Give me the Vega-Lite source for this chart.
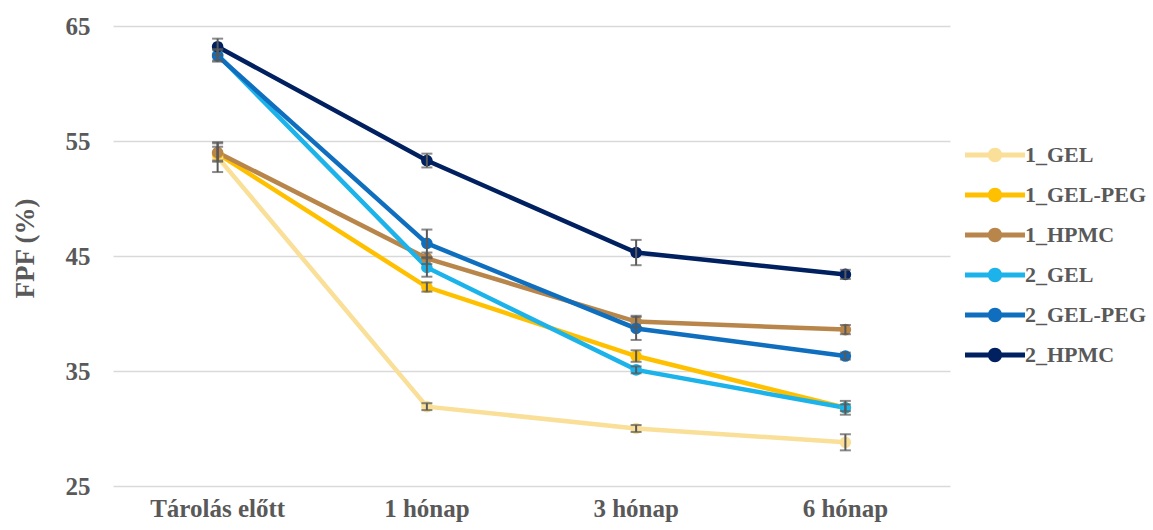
{
  "$schema": "https://vega.github.io/schema/vega-lite/v6.json",
  "autosize": "none",
  "width": 837,
  "height": 460,
  "padding": {"left": 113, "top": 26, "right": 203, "bottom": 44},
  "background": "white",
  "config": {"view": {"stroke": null}, "font": "Liberation Serif"},
  "data": {"values": [
    {"time": "Tárolás előtt", "series": "1_GEL", "value": 53.6, "err": 1.3},
    {"time": "1 hónap", "series": "1_GEL", "value": 31.9, "err": 0.3},
    {"time": "3 hónap", "series": "1_GEL", "value": 30.0, "err": 0.3},
    {"time": "6 hónap", "series": "1_GEL", "value": 28.8, "err": 0.7},
    {"time": "Tárolás előtt", "series": "1_GEL-PEG", "value": 53.9, "err": 0.6},
    {"time": "1 hónap", "series": "1_GEL-PEG", "value": 42.3, "err": 0.4},
    {"time": "3 hónap", "series": "1_GEL-PEG", "value": 36.3, "err": 0.5},
    {"time": "6 hónap", "series": "1_GEL-PEG", "value": 31.8, "err": 0.3},
    {"time": "Tárolás előtt", "series": "1_HPMC", "value": 54.0, "err": 0.8},
    {"time": "1 hónap", "series": "1_HPMC", "value": 44.8, "err": 0.5},
    {"time": "3 hónap", "series": "1_HPMC", "value": 39.3, "err": 0.5},
    {"time": "6 hónap", "series": "1_HPMC", "value": 38.6, "err": 0.4},
    {"time": "Tárolás előtt", "series": "2_GEL", "value": 62.5, "err": 0.5},
    {"time": "1 hónap", "series": "2_GEL", "value": 44.0, "err": 0.8},
    {"time": "3 hónap", "series": "2_GEL", "value": 35.1, "err": 0.3},
    {"time": "6 hónap", "series": "2_GEL", "value": 31.8, "err": 0.6},
    {"time": "Tárolás előtt", "series": "2_GEL-PEG", "value": 62.4, "err": 0.5},
    {"time": "1 hónap", "series": "2_GEL-PEG", "value": 46.1, "err": 1.2},
    {"time": "3 hónap", "series": "2_GEL-PEG", "value": 38.7, "err": 1.0},
    {"time": "6 hónap", "series": "2_GEL-PEG", "value": 36.3, "err": 0.3},
    {"time": "Tárolás előtt", "series": "2_HPMC", "value": 63.2, "err": 0.7},
    {"time": "1 hónap", "series": "2_HPMC", "value": 53.3, "err": 0.6},
    {"time": "3 hónap", "series": "2_HPMC", "value": 45.3, "err": 1.1},
    {"time": "6 hónap", "series": "2_HPMC", "value": 43.4, "err": 0.4}
  ]},
  "encoding": {
    "x": {
      "field": "time", "type": "nominal",
      "sort": ["Tárolás előtt", "1 hónap", "3 hónap", "6 hónap"],
      "scale": {"paddingInner": 0, "paddingOuter": 0},
      "axis": {
        "title": null, "labelAngle": 0, "ticks": false, "domain": false, "grid": false,
        "labelFont": "Liberation Serif", "labelFontWeight": "bold", "labelFontSize": 25,
        "labelColor": "#595959", "labelPadding": 10
      }
    },
    "y": {
      "field": "value", "type": "quantitative", "title": "FPF (%)",
      "scale": {"domain": [25, 65], "nice": false, "zero": false},
      "axis": {
        "values": [25, 35, 45, 55, 65], "title": "FPF (%)",
        "grid": true, "gridColor": "#D9D9D9", "gridWidth": 1.5,
        "domain": false, "ticks": false,
        "labelFont": "Liberation Serif", "labelFontWeight": "bold", "labelFontSize": 25,
        "labelColor": "#595959", "labelPadding": 23,
        "titleFont": "Liberation Serif", "titleFontWeight": "bold", "titleFontSize": 27,
        "titleColor": "#595959", "titleX": -88, "titleY": 222, "titleBaseline": "middle"
      }
    }
  },
  "layer": [
    {
      "mark": {"type": "line", "strokeWidth": 4.5},
      "encoding": {
        "color": {
          "field": "series", "type": "nominal",
          "scale": {
            "domain": ["1_GEL", "1_GEL-PEG", "1_HPMC", "2_GEL", "2_GEL-PEG", "2_HPMC"],
            "range": ["#F9DF98", "#FFC000", "#B8864A", "#1CB3EA", "#0F6FBE", "#002060"]
          },
          "legend": {
            "title": null, "orient": "none", "legendX": 871, "legendY": 118,
            "symbolType": "M -5 -0.4 H 5 V 0.4 H -5 Z M -1.2 0 A 1.2 1.2 0 1 1 1.2 0 A 1.2 1.2 0 1 1 -1.2 0 Z",
            "symbolSize": 144, "symbolStrokeWidth": 0,
            "labelFont": "Liberation Serif", "labelFontWeight": "bold", "labelFontSize": 22,
            "labelColor": "#595959", "labelOffset": 19, "rowPadding": 18,
            "encode": {"symbols": {"update": {"fill": {"scale": "color", "field": "value"}, "stroke": {"value": "transparent"}, "opacity": {"value": 1}}}}
          }
        }
      }
    },
    {
      "mark": {"type": "point", "filled": true, "size": 135, "opacity": 1},
      "encoding": {
        "color": {"field": "series", "type": "nominal"}
      }
    },
    {
      "mark": {"type": "errorbar", "color": "#595959", "ticks": {"size": 11, "thickness": 2, "color": "#595959"}, "rule": {"strokeWidth": 2, "color": "#595959"}},
      "encoding": {
        "yError": {"field": "err"}
      }
    }
  ]
}
